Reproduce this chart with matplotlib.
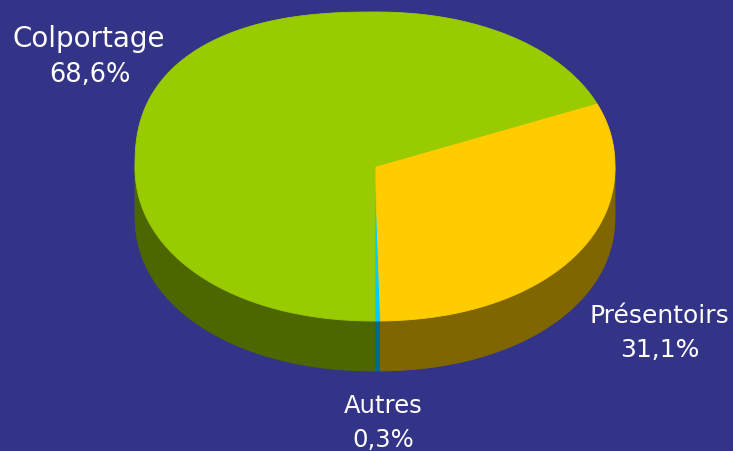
import numpy as np
import matplotlib
matplotlib.use("Agg")
import matplotlib.pyplot as plt
from matplotlib.patches import Polygon

# ---- data ----
categories = ["Autres", "Présentoirs", "Colportage"]
shares = [0.3, 31.1, 68.6]
pct_labels = ["0,3%", "31,1%", "68,6%"]
top_colors = ["#00CCFF", "#FFCC00", "#99CC00"]
side_colors = ["#006C8C", "#806600", "#4C6600"]

# ---- layout ----
W, H = 733, 452
bg = "#333387"
cx, cy = 375, 167.5      # centre of top face (pixels)
rx, ry = 240, 154.5      # radii of top face
depth = 50               # thickness of the pie
start = -90.0            # degrees, counter-clockwise
# shape exponent of the projected rim per quadrant (perspective look)
exp_q = {"tr": 2.1, "tl": 2.4, "bl": 2.1, "br": 2.1}

fig = plt.figure(figsize=(W / 100, H / 100), dpi=100, facecolor=bg)
ax = fig.add_axes([0, 0, 1, 1])
ax.set_xlim(0, W)
ax.set_ylim(H, 0)
ax.axis("off")
ax.set_facecolor(bg)


def pt(a_deg, dz=0.0):
    a = np.radians(np.atleast_1d(a_deg))
    c, s = np.cos(a), np.sin(a)
    n = np.where(s >= 0, np.where(c < 0, exp_q["tl"], exp_q["tr"]),
                 np.where(c < 0, exp_q["bl"], exp_q["br"]))
    p = 2.0 / n
    x = cx + rx * np.sign(c) * np.abs(c) ** p
    y = cy - ry * np.sign(s) * np.abs(s) ** p + dz
    return x, y


total = sum(shares)
angles = []
a0 = start
for v in shares:
    a1 = a0 + 360.0 * v / total
    angles.append((a0, a1))
    a0 = a1

# side walls (front half only)
for (a0, a1), sc in zip(angles, side_colors):
    for lo, hi in [(-180, 0), (180, 360)]:
        s, e = max(a0, lo), min(a1, hi)
        if e > s:
            t = np.linspace(s, e, 300)
            xs, ys = pt(t)
            top = np.column_stack([xs, ys])
            bot = np.column_stack([xs, ys + depth])[::-1]
            ax.add_patch(Polygon(np.vstack([top, bot]), closed=True,
                                 facecolor=sc, edgecolor=sc, lw=0.6))

# top faces
for (a0, a1), tc in zip(angles, top_colors):
    t = np.linspace(a0, a1, max(3, int((a1 - a0) * 4)))
    xs, ys = pt(t)
    verts = np.vstack([[cx, cy], np.column_stack([xs, ys])])
    ax.add_patch(Polygon(verts, closed=True, facecolor=tc, edgecolor=tc, lw=0.6))

# labels
font = dict(family="DejaVu Sans", color="white", ha="center", va="baseline")
ax.text(89, 47, categories[2], fontsize=20, **font)
ax.text(90, 82, pct_labels[2], fontsize=18.5, **font)
ax.text(659, 323, categories[1], fontsize=18, **font)
ax.text(660, 357, pct_labels[1], fontsize=18, **font)
ax.text(383, 413, categories[0], fontsize=17.5, **font)
ax.text(383, 447, pct_labels[0], fontsize=17.5, **font)

fig.savefig("out.png", dpi=100, facecolor=bg)
